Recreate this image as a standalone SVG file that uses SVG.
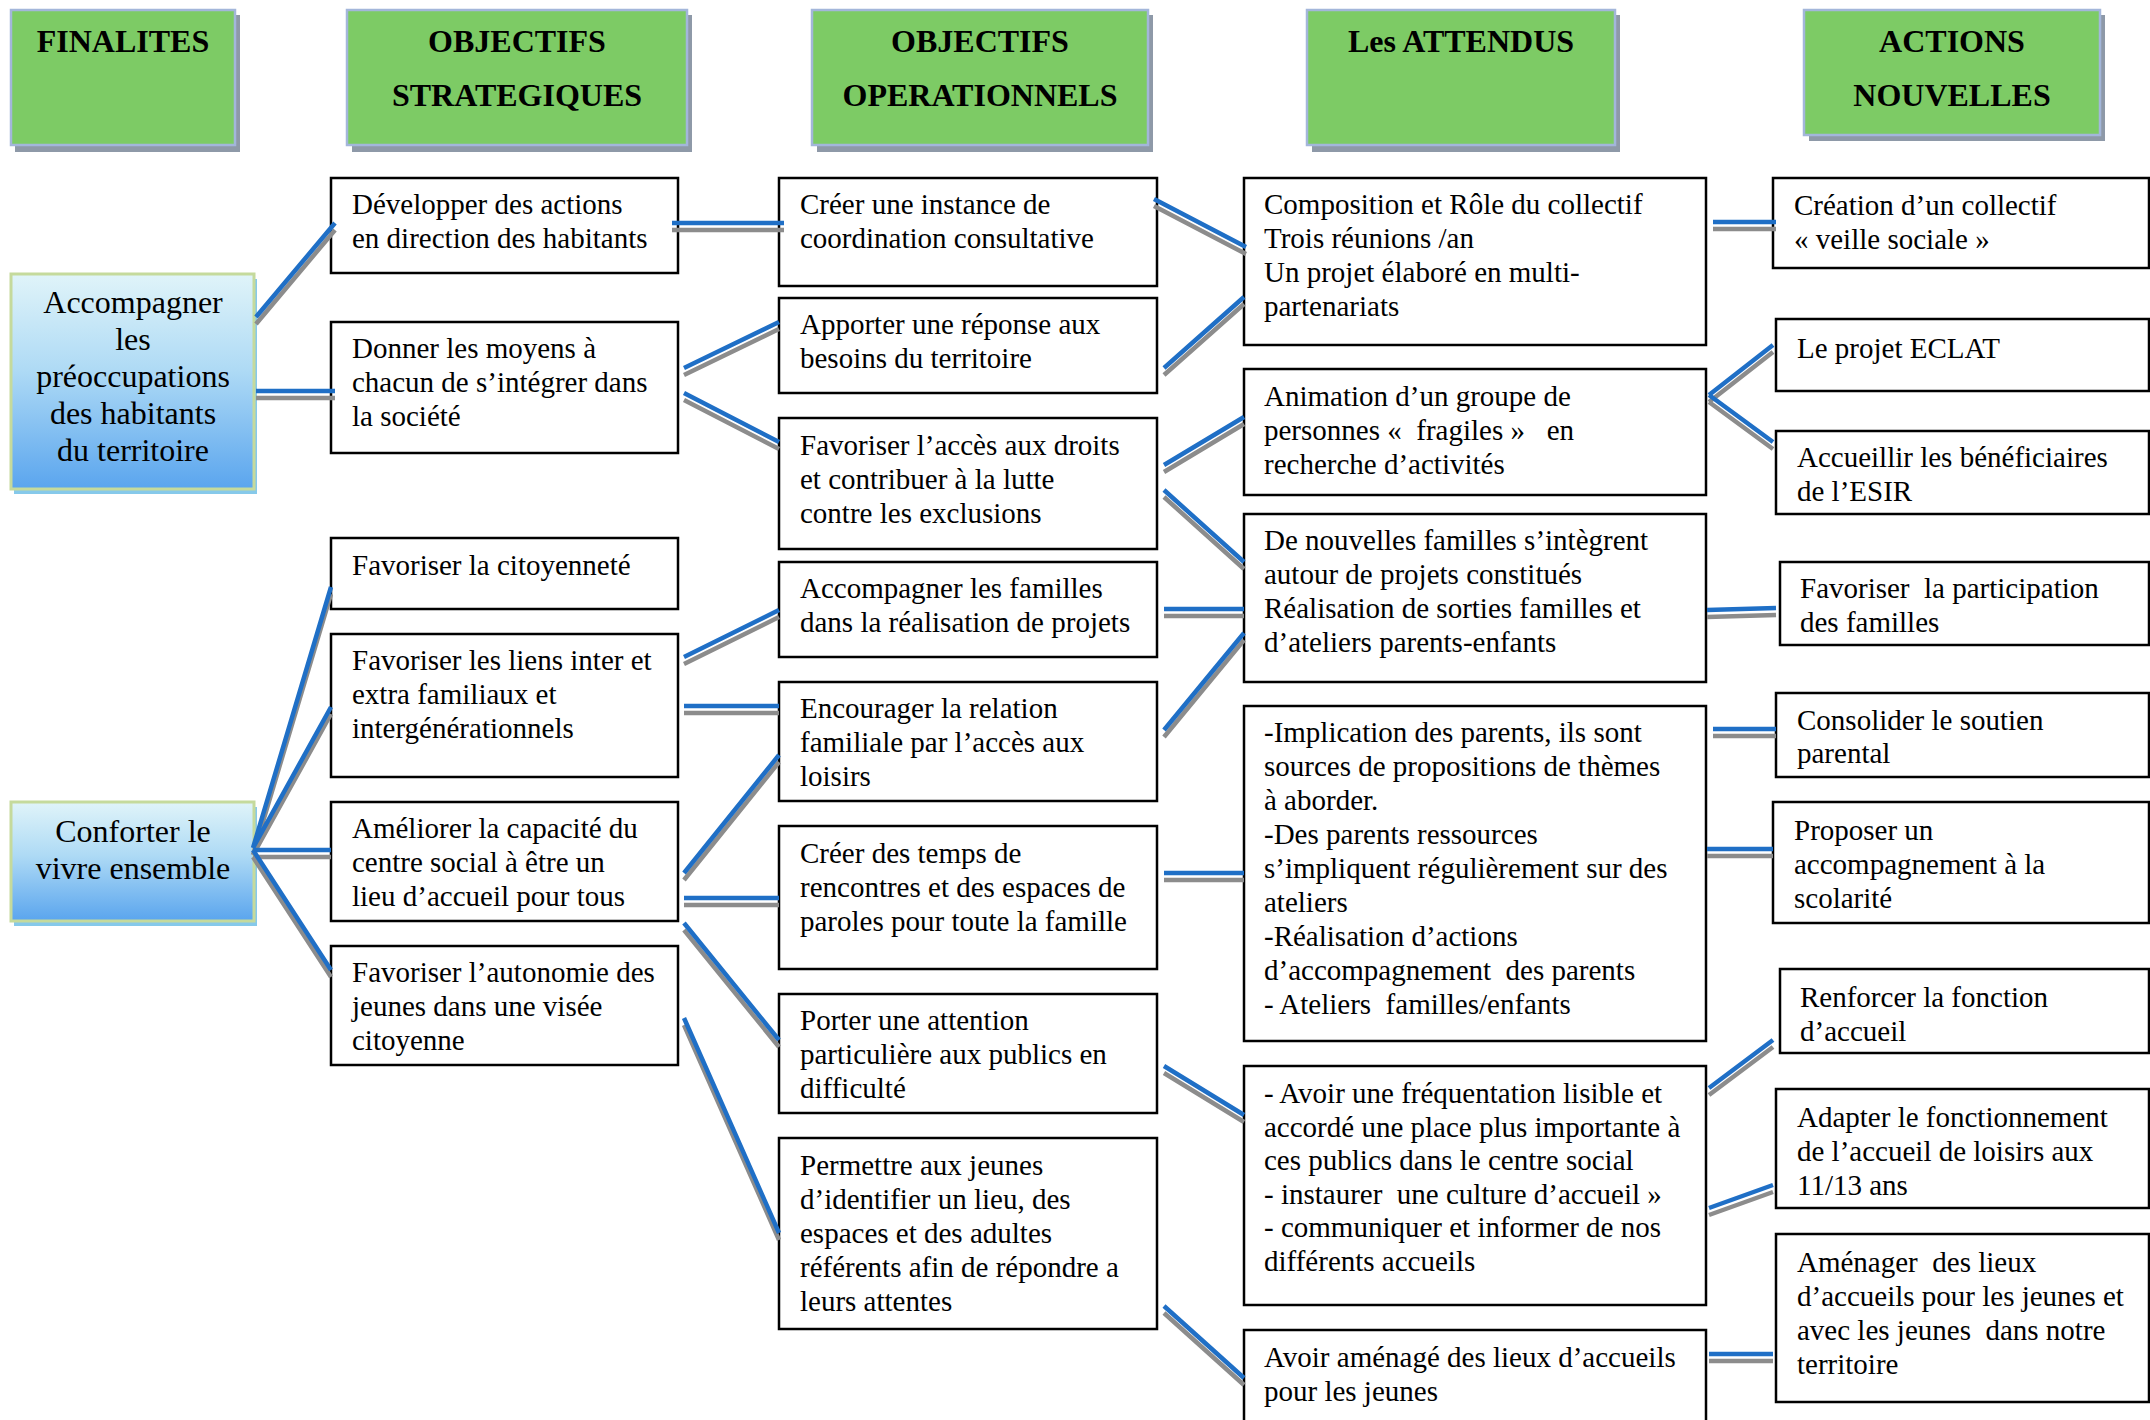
<svg xmlns="http://www.w3.org/2000/svg" width="2150" height="1420" viewBox="0 0 2150 1420">
<style>
text{font-family:"Liberation Serif","Times New Roman",serif;white-space:pre;fill:#000}
.t{font-size:29px}
.h{font-size:32px;font-weight:bold;text-anchor:middle}
.f{font-size:32px;text-anchor:middle}
.hb{fill:#7dcb65;stroke:#a3b6da;stroke-width:2.5}
.hs{fill:#8e99a8}
.fb{fill:url(#fg);stroke:#c5da9c;stroke-width:3}
.fs{fill:#86c9ea}
.b{fill:#fff;stroke:#000;stroke-width:2.5}
.ln{stroke:#1f6fc6;stroke-width:4.5;fill:none}
.sh{stroke:#8c8c8c;stroke-width:4.5;fill:none}
</style>
<defs>
<linearGradient id="fg" x1="0" y1="0" x2="0" y2="1">
<stop offset="0" stop-color="#e0f4f9"/>
<stop offset="0.45" stop-color="#aedaf5"/>
<stop offset="1" stop-color="#5aa5ee"/>
</linearGradient>
</defs>
<rect width="2150" height="1420" fill="#fff"/>

<g id="headers">
<g id="h-finalites"><rect class="hs" x="15" y="15" width="225" height="137"/><rect class="hb" x="11" y="10" width="224" height="135"/><text class="h" x="123" y="52">FINALITES</text></g>
<g id="h-strat"><rect class="hs" x="352" y="15" width="340" height="137"/><rect class="hb" x="347" y="10" width="340" height="135"/><text class="h" x="517" y="52">OBJECTIFS</text><text class="h" x="517" y="106">STRATEGIQUES</text></g>
<g id="h-oper"><rect class="hs" x="817" y="15" width="336" height="137"/><rect class="hb" x="812" y="10" width="336" height="135"/><text class="h" x="980" y="52">OBJECTIFS</text><text class="h" x="980" y="106">OPERATIONNELS</text></g>
<g id="h-attendus"><rect class="hs" x="1312" y="15" width="308" height="137"/><rect class="hb" x="1307" y="10" width="308" height="135"/><text class="h" x="1461" y="52">Les ATTENDUS</text></g>
<g id="h-actions"><rect class="hs" x="1809" y="15" width="296" height="126"/><rect class="hb" x="1804" y="10" width="296" height="125"/><text class="h" x="1952" y="52">ACTIONS</text><text class="h" x="1952" y="106">NOUVELLES</text></g>
</g>

<g id="fin1"><rect class="fs" x="14" y="279" width="243" height="215"/><rect class="fb" x="11" y="274" width="243" height="215"/>
<text class="f"><tspan x="133" y="313">Accompagner</tspan><tspan x="133" y="350">les</tspan><tspan x="133" y="387">préoccupations</tspan><tspan x="133" y="424">des habitants</tspan><tspan x="133" y="461">du territoire</tspan></text></g>
<g id="fin2"><rect class="fs" x="14" y="807" width="243" height="119"/><rect class="fb" x="11" y="802" width="243" height="119"/>
<text class="f"><tspan x="133" y="842">Conforter le</tspan><tspan x="133" y="879">vivre ensemble</tspan></text></g>

<g id="s1"><rect class="b" x="331" y="178" width="347" height="95"/><text class="t"><tspan x="352" y="214">Développer des actions</tspan><tspan x="352" y="248">en direction des habitants</tspan></text></g>
<g id="s2"><rect class="b" x="331" y="322" width="347" height="131"/><text class="t"><tspan x="352" y="358">Donner les moyens à</tspan><tspan x="352" y="392">chacun de s’intégrer dans</tspan><tspan x="352" y="426">la société</tspan></text></g>
<g id="s3"><rect class="b" x="331" y="538" width="347" height="71"/><text class="t"><tspan x="352" y="575">Favoriser la citoyenneté</tspan></text></g>
<g id="s4"><rect class="b" x="331" y="634" width="347" height="143"/><text class="t"><tspan x="352" y="670">Favoriser les liens inter et</tspan><tspan x="352" y="704">extra familiaux et</tspan><tspan x="352" y="738">intergénérationnels</tspan></text></g>
<g id="s5"><rect class="b" x="331" y="802" width="347" height="119"/><text class="t"><tspan x="352" y="838">Améliorer la capacité du</tspan><tspan x="352" y="872">centre social à être un</tspan><tspan x="352" y="906">lieu d’accueil pour tous</tspan></text></g>
<g id="s6"><rect class="b" x="331" y="946" width="347" height="119"/><text class="t"><tspan x="352" y="982">Favoriser l’autonomie des</tspan><tspan x="352" y="1016">jeunes dans une visée</tspan><tspan x="352" y="1050">citoyenne</tspan></text></g>

<g id="o1"><rect class="b" x="779" y="178" width="378" height="108"/><text class="t"><tspan x="800" y="214">Créer une instance de</tspan><tspan x="800" y="248">coordination consultative</tspan></text></g>
<g id="o2"><rect class="b" x="779" y="298" width="378" height="95"/><text class="t"><tspan x="800" y="334">Apporter une réponse aux</tspan><tspan x="800" y="368">besoins du territoire</tspan></text></g>
<g id="o3"><rect class="b" x="779" y="418" width="378" height="131"/><text class="t"><tspan x="800" y="455">Favoriser l’accès aux droits</tspan><tspan x="800" y="489">et contribuer à la lutte</tspan><tspan x="800" y="523">contre les exclusions</tspan></text></g>
<g id="o4"><rect class="b" x="779" y="562" width="378" height="95"/><text class="t"><tspan x="800" y="598">Accompagner les familles</tspan><tspan x="800" y="632">dans la réalisation de projets</tspan></text></g>
<g id="o5"><rect class="b" x="779" y="682" width="378" height="119"/><text class="t"><tspan x="800" y="718">Encourager la relation</tspan><tspan x="800" y="752">familiale par l’accès aux</tspan><tspan x="800" y="786">loisirs</tspan></text></g>
<g id="o6"><rect class="b" x="779" y="826" width="378" height="143"/><text class="t"><tspan x="800" y="863">Créer des temps de</tspan><tspan x="800" y="897">rencontres et des espaces de</tspan><tspan x="800" y="931">paroles pour toute la famille</tspan></text></g>
<g id="o7"><rect class="b" x="779" y="994" width="378" height="119"/><text class="t"><tspan x="800" y="1030">Porter une attention</tspan><tspan x="800" y="1064">particulière aux publics en</tspan><tspan x="800" y="1098">difficulté</tspan></text></g>
<g id="o8"><rect class="b" x="779" y="1138" width="378" height="191"/><text class="t"><tspan x="800" y="1175">Permettre aux jeunes</tspan><tspan x="800" y="1209">d’identifier un lieu, des</tspan><tspan x="800" y="1243">espaces et des adultes</tspan><tspan x="800" y="1277">référents afin de répondre a</tspan><tspan x="800" y="1311">leurs attentes</tspan></text></g>

<g id="a1"><rect class="b" x="1244" y="178" width="462" height="167"/><text class="t"><tspan x="1264" y="214">Composition et Rôle du collectif</tspan><tspan x="1264" y="248">Trois réunions /an</tspan><tspan x="1264" y="282">Un projet élaboré en multi-</tspan><tspan x="1264" y="316">partenariats</tspan></text></g>
<g id="a2"><rect class="b" x="1244" y="369" width="462" height="126"/><text class="t"><tspan x="1264" y="406">Animation d’un groupe de</tspan><tspan x="1264" y="440">personnes «  fragiles »   en</tspan><tspan x="1264" y="474">recherche d’activités</tspan></text></g>
<g id="a3"><rect class="b" x="1244" y="514" width="462" height="168"/><text class="t"><tspan x="1264" y="550">De nouvelles familles s’intègrent</tspan><tspan x="1264" y="584">autour de projets constitués</tspan><tspan x="1264" y="618">Réalisation de sorties familles et</tspan><tspan x="1264" y="652">d’ateliers parents-enfants</tspan></text></g>
<g id="a4"><rect class="b" x="1244" y="706" width="462" height="335"/><text class="t"><tspan x="1264" y="742">-Implication des parents, ils sont</tspan><tspan x="1264" y="776">sources de propositions de thèmes</tspan><tspan x="1264" y="810">à aborder.</tspan><tspan x="1264" y="844">-Des parents ressources</tspan><tspan x="1264" y="878">s’impliquent régulièrement sur des</tspan><tspan x="1264" y="912">ateliers</tspan><tspan x="1264" y="946">-Réalisation d’actions</tspan><tspan x="1264" y="980">d’accompagnement  des parents</tspan><tspan x="1264" y="1014">- Ateliers  familles/enfants</tspan></text></g>
<g id="a5"><rect class="b" x="1244" y="1066" width="462" height="239"/><text class="t"><tspan x="1264" y="1103">- Avoir une fréquentation lisible et</tspan><tspan x="1264" y="1137">accordé une place plus importante à</tspan><tspan x="1264" y="1170">ces publics dans le centre social</tspan><tspan x="1264" y="1204">- instaurer  une culture d’accueil »</tspan><tspan x="1264" y="1237">- communiquer et informer de nos</tspan><tspan x="1264" y="1271">différents accueils</tspan></text></g>
<g id="a6"><rect class="b" x="1244" y="1330" width="462" height="100"/><text class="t"><tspan x="1264" y="1367">Avoir aménagé des lieux d’accueils</tspan><tspan x="1264" y="1401">pour les jeunes</tspan></text></g>

<g id="n1"><rect class="b" x="1773" y="178" width="376" height="90"/><text class="t"><tspan x="1794" y="215">Création d’un collectif</tspan><tspan x="1794" y="249">« veille sociale »</tspan></text></g>
<g id="n2"><rect class="b" x="1776" y="319" width="373" height="72"/><text class="t"><tspan x="1797" y="358">Le projet ECLAT</tspan></text></g>
<g id="n3"><rect class="b" x="1776" y="431" width="373" height="83"/><text class="t"><tspan x="1797" y="467">Accueillir les bénéficiaires</tspan><tspan x="1797" y="501">de l’ESIR</tspan></text></g>
<g id="n4"><rect class="b" x="1780" y="562" width="369" height="83"/><text class="t"><tspan x="1800" y="598">Favoriser  la participation</tspan><tspan x="1800" y="632">des familles</tspan></text></g>
<g id="n5"><rect class="b" x="1776" y="693" width="373" height="84"/><text class="t"><tspan x="1797" y="730">Consolider le soutien</tspan><tspan x="1797" y="763">parental</tspan></text></g>
<g id="n6"><rect class="b" x="1773" y="802" width="376" height="121"/><text class="t"><tspan x="1794" y="840">Proposer un</tspan><tspan x="1794" y="874">accompagnement à la</tspan><tspan x="1794" y="908">scolarité</tspan></text></g>
<g id="n7"><rect class="b" x="1780" y="969" width="369" height="84"/><text class="t"><tspan x="1800" y="1007">Renforcer la fonction</tspan><tspan x="1800" y="1041">d’accueil</tspan></text></g>
<g id="n8"><rect class="b" x="1776" y="1089" width="373" height="119"/><text class="t"><tspan x="1797" y="1127">Adapter le fonctionnement</tspan><tspan x="1797" y="1161">de l’accueil de loisirs aux</tspan><tspan x="1797" y="1195">11/13 ans</tspan></text></g>
<g id="n9"><rect class="b" x="1776" y="1234" width="373" height="168"/><text class="t"><tspan x="1797" y="1272">Aménager  des lieux</tspan><tspan x="1797" y="1306">d’accueils pour les jeunes et</tspan><tspan x="1797" y="1340">avec les jeunes  dans notre</tspan><tspan x="1797" y="1374">territoire</tspan></text></g>

<g id="connectors">
<g class="sh" transform="translate(0,7)">
<path d="M256 317L335 223M256 391H335M672 223H784M684 368L779 322M684 393L779 442M1154 199L1246 247M1164 368L1244 297M1713 222H1776M1164 465L1244 417M1709 395L1773 345M1709 395L1773 442M1164 490L1244 562M253 848L331 587M253 848L331 707M253 850H331M253 850L331 970M684 657L779 610M684 706H779M684 873L779 755M684 898H779M684 923L779 1040M684 1018L779 1233M1164 609H1244M1164 730L1244 633M1707 610L1776 608M1164 873H1244M1713 729H1776M1707 849H1773M1164 1066L1244 1115M1709 1088L1773 1040M1709 1208L1773 1185M1164 1306L1244 1378M1709 1354H1773"/>
</g>
<g class="ln">
<path d="M256 317L335 223M256 391H335M672 223H784M684 368L779 322M684 393L779 442M1154 199L1246 247M1164 368L1244 297M1713 222H1776M1164 465L1244 417M1709 395L1773 345M1709 395L1773 442M1164 490L1244 562M253 848L331 587M253 848L331 707M253 850H331M253 850L331 970M684 657L779 610M684 706H779M684 873L779 755M684 898H779M684 923L779 1040M684 1018L779 1233M1164 609H1244M1164 730L1244 633M1707 610L1776 608M1164 873H1244M1713 729H1776M1707 849H1773M1164 1066L1244 1115M1709 1088L1773 1040M1709 1208L1773 1185M1164 1306L1244 1378M1709 1354H1773"/>
</g>
</g>
</svg>
